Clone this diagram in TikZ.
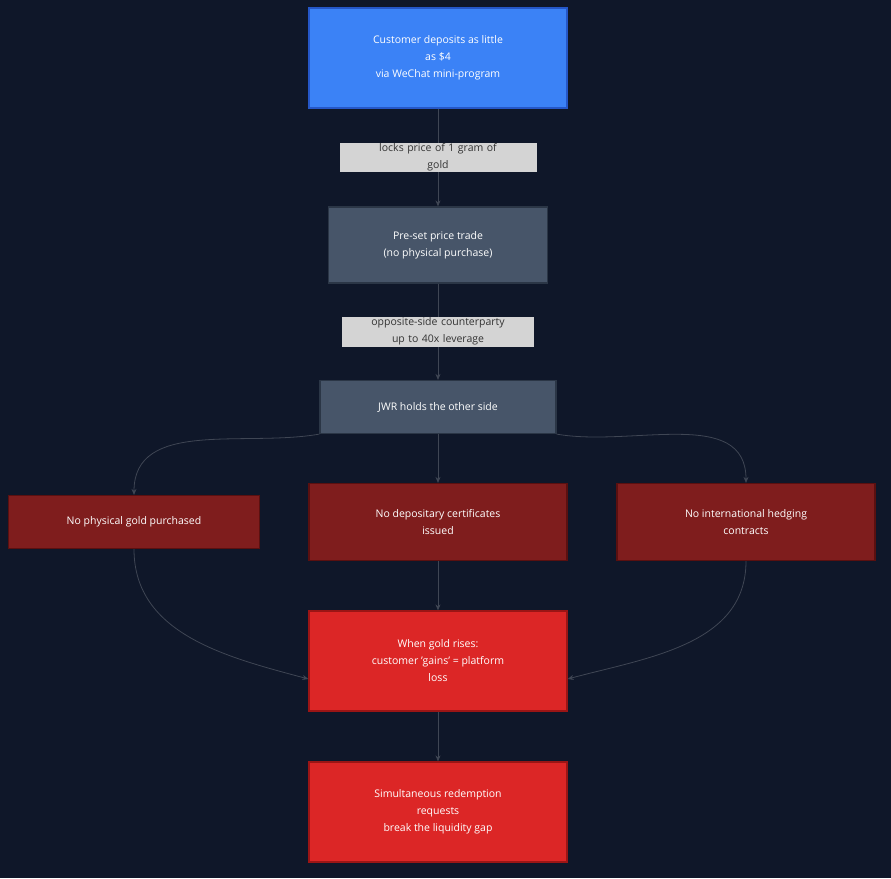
\documentclass[tikz,border=0pt]{standalone}
\usepackage{fontspec}
\setmainfont{Open Sans}
\usetikzlibrary{arrows.meta}
\definecolor{bgnavy}{HTML}{0F1729}
\definecolor{stepblue}{HTML}{3B82F6}
\definecolor{stepblueline}{HTML}{2557C8}
\definecolor{stepslate}{HTML}{475569}
\definecolor{stepslateline}{HTML}{2B3646}
\definecolor{gapred}{HTML}{7F1D1D}
\definecolor{gapredline}{HTML}{5A1010}
\definecolor{lossred}{HTML}{DC2626}
\definecolor{lossredline}{HTML}{9B1515}
\definecolor{edgegray}{HTML}{3F4654}
\definecolor{tagfill}{HTML}{D4D4D4}

\begin{document}
\begin{tikzpicture}[x=1pt,y=-1pt,
    box/.style={draw, line width=1.2pt, rectangle, align=center, text=white, font=\fontsize{10.5}{17}\selectfont},
    tag/.style={fill=tagfill, text=black!80, align=center, inner sep=1pt, font=\fontsize{10.5}{17}\selectfont},
    arrow/.style={-{Stealth[length=6pt,width=5pt]}, draw=edgegray, line width=0.8pt}
]
    \fill[bgnavy] (0,0) rectangle (891,878);

    % Flow of one deposit
    \node[box, fill=stepblue, draw=stepblueline, minimum width=258pt, minimum height=100pt] (deposit) at (438,58) {Customer deposits as little\\as \$4\\via WeChat mini-program};
    \node[box, fill=stepslate, draw=stepslateline, minimum width=219pt, minimum height=76pt] (preset) at (438,245) {Pre-set price trade\\(no physical purchase)};
    \node[box, fill=stepslate, draw=stepslateline, minimum width=236pt, minimum height=53pt] (jwr) at (438,407) {JWR holds the other side};

    % What is missing
    \node[box, fill=gapred, draw=gapredline, minimum width=251pt, minimum height=53pt] (nophys) at (134,522) {No physical gold purchased};
    \node[box, fill=gapred, draw=gapredline, minimum width=258pt, minimum height=77pt] (nocert) at (438,522) {No depositary certificates\\issued};
    \node[box, fill=gapred, draw=gapredline, minimum width=258pt, minimum height=77pt] (nohedge) at (746,522) {No international hedging\\contracts};

    % Outcome
    \node[box, fill=lossred, draw=lossredline, minimum width=258pt, minimum height=100pt] (gains) at (438,661) {When gold rises:\\customer 'gains' = platform\\loss};
    \node[box, fill=lossred, draw=lossredline, minimum width=258pt, minimum height=100pt] (redeem) at (438,812) {Simultaneous redemption\\requests\\break the liquidity gap};

    % Arrows
    \draw[arrow] (deposit) -- node[tag, text width=195pt] {locks price of 1 gram of\\gold} (preset);
    \draw[arrow] (preset) -- node[tag, text width=190pt] {opposite-side counterparty\\up to 40x leverage} (jwr);
    \draw[arrow] (jwr.south west) to[out=190,in=90] (nophys.north);
    \draw[arrow] (jwr) -- (nocert);
    \draw[arrow] (jwr.south east) to[out=-10,in=90] (nohedge.north);
    \draw[arrow] (nophys.south) to[out=-90,in=165] ([yshift=-18pt]gains.west);
    \draw[arrow] (nocert) -- (gains);
    \draw[arrow] (nohedge.south) to[out=-90,in=15] ([yshift=-18pt]gains.east);
    \draw[arrow] (gains) -- (redeem);
\end{tikzpicture}
\end{document}
